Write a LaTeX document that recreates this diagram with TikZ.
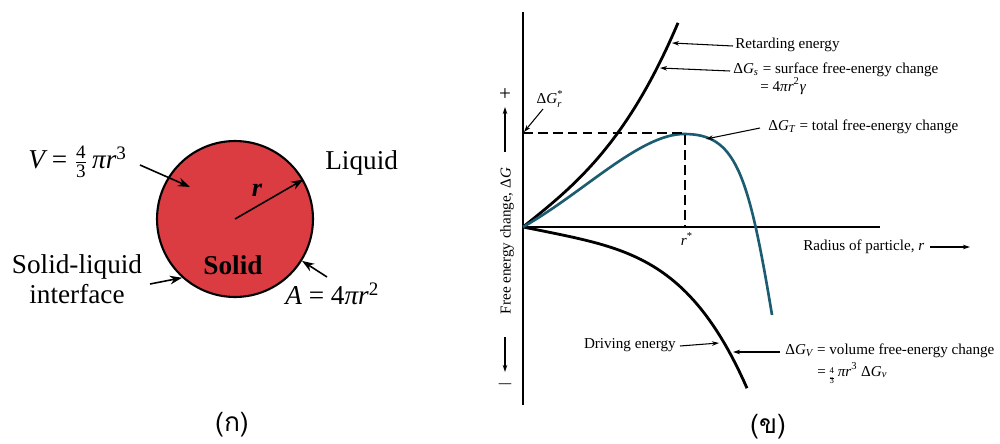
\documentclass[tikz,border=0pt]{standalone}
\usepackage{fontspec}
\usepackage{amsmath}
\setmainfont{Liberation Serif}
\newfontfamily\thaifont[Script=Thai]{Loma}
\usetikzlibrary{arrows.meta,calc}
\definecolor{solidred}{RGB}{218,60,66}
\definecolor{tealc}{RGB}{28,92,112}
\tikzset{
  lbl/.style={font=\fontsize{15.5}{18}\selectfont, inner sep=0pt},
  glbl/.style={font=\fontsize{8.6}{10}\selectfont, inner sep=0pt},
  thl/.style={font=\thaifont\fontsize{15}{18}\selectfont, inner sep=0pt},
  larr/.style={-{Stealth[length=7pt,width=5pt]}, line width=0.9pt},
  garr/.style={-{Stealth[length=4pt,width=2.6pt]}, line width=0.6pt},
  axisline/.style={line width=0.8pt},
  curve/.style={line width=1.6pt},
  tcurve/.style={line width=1.5pt, color=tealc},
  guide/.style={line width=0.7pt, dash pattern=on 5.5pt off 3pt}
}
\newcommand{\tinyfr}[2]{\raisebox{-1.6pt}{\fontsize{5}{5}\selectfont\begin{tabular}{@{}c@{}}#1\\[-2.2pt]\rule{0.5em}{0.3pt}\\[-2.6pt]#2\end{tabular}}}
\begin{document}
\begin{tikzpicture}[x=0.02cm,y=-0.02cm]
\useasboundingbox (0,0) rectangle (1000,443);
% ---------- (a) ----------
\node[circle, fill=solidred, draw=black, line width=1.2pt, minimum size=3.12cm, inner sep=0pt] (c) at (235,219) {};
\node[lbl, font=\fontsize{15.5}{18}\selectfont\bfseries] (solid) at (233,265) {Solid};
\node[lbl, font=\fontsize{15}{18}\selectfont\bfseries\itshape] (rr) at (257,190) {r};
\draw[larr] (c.center) -- (c.30);
\node[lbl, anchor=west] (V) at (28,162) {{\itshape V} = $\frac{\text{4}}{\text{3}}$\,{\itshape πr}\textsuperscript{3}};
\coordinate (vt) at (190,187);
\draw[larr] (140,165) -- (vt);
\node[lbl, anchor=west] (liq) at (325,163) {Liquid};
\node[lbl, align=center] (sl) at (77,279) {Solid-liquid\\[-1pt]interface};
\draw[larr] (150,284) -- (c.228);
\node[lbl, anchor=west] (A) at (285,294) {{\itshape A} = 4{\itshape πr}\textsuperscript{2}};
\draw[larr] (327,277) -- (c.-32);
\node[thl] (ka) at (232,425) {(ก)};
% ---------- (b) ----------
\coordinate (O) at (523,227);
\draw[axisline] (523,12) -- (523,405);
\draw[axisline] (O) -- (880,227);
% retarding energy
\draw[curve] plot[domain=0:155, samples=60] ({523+\x},{227-(0.8*\x+(0.02781*\x)^3)});
% driving energy
\draw[curve] plot[domain=0:224, samples=60] ({523+\x},{227+0.2*\x+(0.01466*\x)^4});
% total
\draw[tcurve] (O) .. controls (583,193) and (640,134) .. (684,134)
  .. controls (735,134) and (748,170) .. (772,315);
% dashed guides
\draw[guide] (523,133) -- (685,133) -- (685,227);
\node[glbl] (rs) at (687,239) {{\itshape r}\textsuperscript{*}};
\node[glbl] (gr) at (549,99) {Δ{\itshape G}\rlap{\raisebox{3.6pt}{\fontsize{6}{6}\selectfont *}}\raisebox{-2.6pt}{\fontsize{6}{6}\selectfont\itshape r}};
\draw[garr] (543,109) -- (524,132);
% labels right
\node[glbl, anchor=west] (ret) at (735,45) {Retarding energy};
\draw[garr] (733,46) -- (672,43);
\node[glbl, anchor=west] (gs) at (733,70) {Δ{\itshape G}\textsubscript{\itshape s} = surface free-energy change};
\node[glbl, anchor=west] (gs2) at (760,86) {= 4{\itshape πr}\textsuperscript{2}{\itshape γ}};
\draw[garr] (730,71) -- (660,68);
\node[glbl, anchor=west] (gt) at (768,127) {Δ{\itshape G}\textsubscript{\itshape T} = total free-energy change};
\draw[garr] (760,128) -- (706,139);
\node[glbl, anchor=west] (rad) at (803,247) {Radius of particle, {\itshape r}};
\draw[garr] (930,247) -- (970,247);
\node[glbl, anchor=east] (drv) at (676,345) {Driving energy};
\draw[garr] (680,346) -- (719,343);
\node[glbl, anchor=west] (gv) at (785,351) {Δ{\itshape G}\textsubscript{\itshape V} = volume free-energy change};
\node[glbl, anchor=west] (gv2) at (817,374) {= \tinyfr{4}{3} {\itshape πr}\textsuperscript{3} Δ{\itshape G}\textsubscript{\itshape v}};
\draw[garr] (780,352) -- (733,352);
% y label
\node[glbl, rotate=90] (ylab) at (507,241) {Free energy change, Δ{\itshape G}};
\node[glbl, font=\fontsize{12}{12}\selectfont] (plus) at (505,95) {+};
\draw[garr] (505,152) -- (505,107);
\draw[garr] (505,337) -- (505,372);
\node[glbl, font=\fontsize{12}{12}\selectfont] (minus) at (505,384) {$-$};
\node[thl] (kb) at (768,427) {(ข)};
\end{tikzpicture}
\end{document}
